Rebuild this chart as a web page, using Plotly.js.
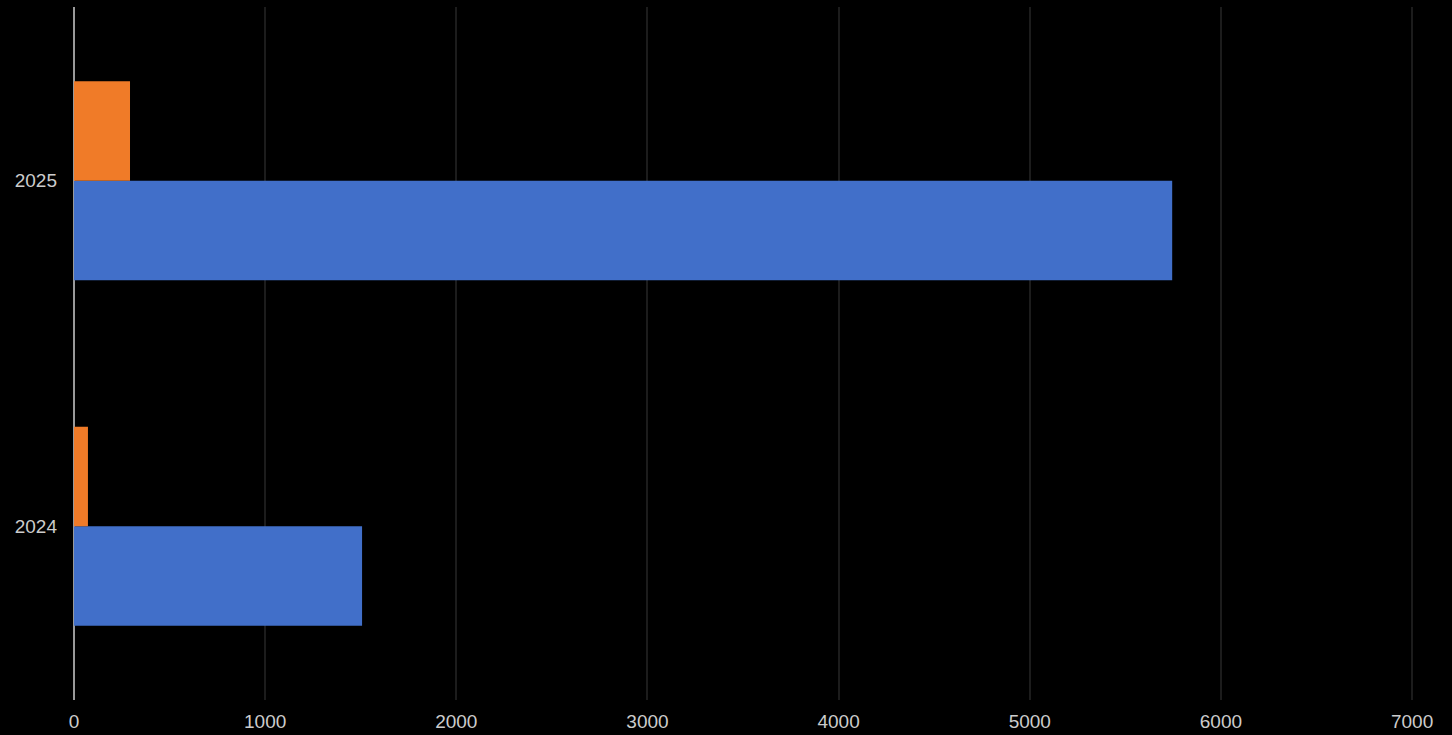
<!DOCTYPE html>
<html>
<head>
<meta charset="utf-8">
<script src="https://cdn.plot.ly/plotly-3.0.1.min.js"></script>
<style>html,body{margin:0;padding:0;background:#000;}#chart{width:1452px;height:735px;}</style>
</head>
<body>
<div id="chart"></div>
<script>
const categories = ['2024', '2025'];
const blueValues = [1507, 5745];
const orangeValues = [73, 293];
const xTickValues = [0, 1000, 2000, 3000, 4000, 5000, 6000, 7000];

const traces = [
  {type: 'bar', orientation: 'h', y: categories, x: blueValues, name: 'Series 1',
   marker: {color: '#416fc9'}, hoverinfo: 'x+y'},
  {type: 'bar', orientation: 'h', y: categories, x: orangeValues, name: 'Series 2',
   marker: {color: '#f07b28'}, hoverinfo: 'x+y'}
];

const layout = {
  width: 1452, height: 735,
  paper_bgcolor: '#000', plot_bgcolor: '#000',
  margin: {l: 74, r: 38, t: 7, b: 35},
  barmode: 'group', bargap: 0.424, bargroupgap: 0,
  showlegend: false,
  font: {family: "'Liberation Sans', Arial, sans-serif", size: 19, color: '#cccccc'},
  xaxis: {
    range: [0, 7010], tickvals: xTickValues, ticktext: xTickValues.map(String),
    showgrid: true, gridcolor: '#1c1c1c', gridwidth: 2,
    zeroline: true, zerolinecolor: '#9a9a9a', zerolinewidth: 1.5,
    showline: false, ticks: '', ticklabelstandoff: 8, fixedrange: true
  },
  yaxis: {
    type: 'category', categoryorder: 'array', categoryarray: categories,
    range: [-0.503, 1.503],
    showgrid: false, zeroline: false, showline: false, ticks: '',
    ticklabelstandoff: 16, fixedrange: true
  }
};

Plotly.newPlot('chart', traces, layout, {displayModeBar: false, staticPlot: true});
</script>
</body>
</html>
